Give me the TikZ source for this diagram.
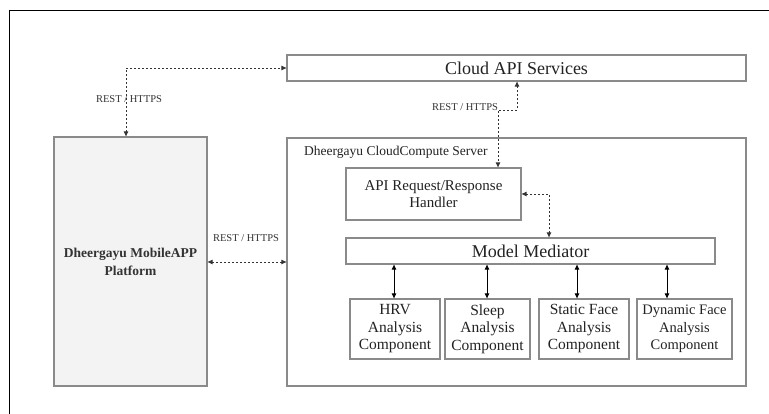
\documentclass[tikz,border=0pt]{standalone}
\usepackage{fontspec}
\setmainfont{Liberation Serif}
\usetikzlibrary{arrows.meta}
\definecolor{boxline}{HTML}{8A8A8A}
\definecolor{linkgray}{HTML}{333333}
\definecolor{panelfill}{HTML}{F3F3F3}
\definecolor{inkgray}{HTML}{222222}
\tikzset{
  box/.style={draw=boxline, line width=1.3pt, inner sep=0pt, align=center, text=inkgray},
  compbox/.style={box, minimum height=60pt, font=\fontsize{15.5}{17.5}\selectfont},
  dlink/.style={draw=linkgray, line width=0.9pt, dash pattern=on 2pt off 2pt,
    {Triangle[length=5pt,width=4.5pt]}-{Triangle[length=5pt,width=4.5pt]}},
  slink/.style={draw=black, line width=0.9pt,
    {Triangle[length=5pt,width=4.5pt]}-{Triangle[length=5pt,width=4.5pt]}},
  tag/.style={inner sep=0pt, text=linkgray, font=\fontsize{10.5}{12}\selectfont}
}
\begin{document}
\begin{tikzpicture}[x=1pt, y=-1pt]
\useasboundingbox (0,0) rectangle (769,414);
% outer frame edges
\draw[black, line width=1pt] (9.5,414) -- (9.5,11) -- (769,11);

% main blocks
\node[box, minimum width=459pt, minimum height=26pt, font=\fontsize{18}{20}\selectfont]
  (cloud) at (516.5,68) {Cloud API Services};
\node[box, fill=panelfill, minimum width=153pt, minimum height=249pt,
  font=\fontsize{13.5}{18}\selectfont\bfseries, text=linkgray]
  (mobile) at (130.5,261.5) {Dheergayu MobileAPP\\Platform};
\node[box, minimum width=459pt, minimum height=248pt] (server) at (516.5,262) {};
\node[inner sep=0pt, anchor=west, text=inkgray, font=\fontsize{13.5}{15}\selectfont]
  (serverlbl) at (304,152) {Dheergayu CloudCompute Server};

% server internals
\node[box, minimum width=175pt, minimum height=52pt, font=\fontsize{15}{17}\selectfont]
  (handler) at (433.5,194) {API Request/Response\\Handler};
\node[box, minimum width=369pt, minimum height=26pt, font=\fontsize{18}{20}\selectfont]
  (mediator) at (530.5,251) {Model Mediator};
\node[compbox, minimum width=90pt] (hrv) at (395,329) {HRV\\Analysis\\Component};
\node[compbox, minimum width=85pt] (sleep) at (487.5,329) {Sleep\\Analysis\\Component};
\node[compbox, minimum width=90pt] (static) at (584,329) {Static Face\\Analysis\\Component};
\node[compbox, minimum width=95pt, font=\fontsize{14.5}{17.5}\selectfont]
  (dynamic) at (684.5,329) {Dynamic Face\\Analysis\\Component};

% mediator <-> components
\coordinate (m1) at (394,0);
\coordinate (m2) at (487,0);
\coordinate (m3) at (577,0);
\coordinate (m4) at (667,0);
\draw[slink] (mediator.south -| m1) -- (hrv.north -| m1);
\draw[slink] (mediator.south -| m2) -- (sleep.north -| m2);
\draw[slink] (mediator.south -| m3) -- (static.north -| m3);
\draw[slink] (mediator.south -| m4) -- (dynamic.north -| m4);

% mobile platform <-> cloud API services
\coordinate (k1) at (126,68);
\draw[dlink] (mobile.north -| k1) -- (k1) -- (cloud.west |- k1);
\node[tag] (t1) at (129,99) {REST / HTTPS};

% cloud API services <-> request handler
\coordinate (k2a) at (517,110);
\coordinate (k2b) at (498,110);
\draw[dlink] (cloud.south -| k2a) -- (k2a) -- (k2b) -- (handler.north -| k2b);
\node[tag] (t2) at (465,107.5) {REST / HTTPS};

% request handler <-> mediator
\coordinate (k3) at (549,194);
\draw[dlink] (handler.east |- k3) -- (k3) -- (mediator.north -| k3);

% mobile platform <-> compute server
\coordinate (k4) at (0,262);
\draw[dlink] (mobile.east |- k4) -- (server.west |- k4);
\node[tag] (t4) at (246,238) {REST / HTTPS};
\end{tikzpicture}
\end{document}
